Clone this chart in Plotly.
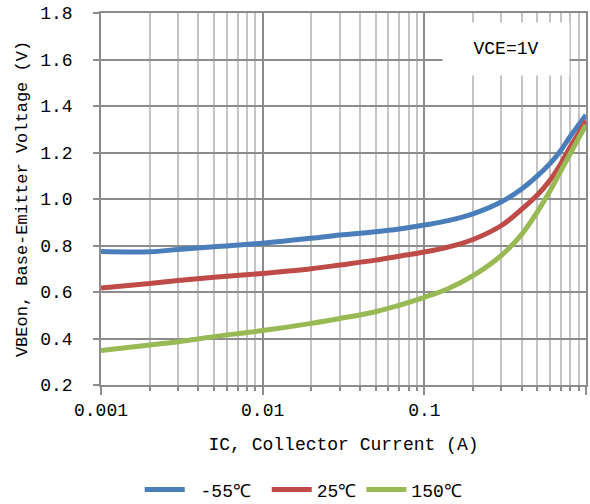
import plotly.graph_objects as go

ic = [0.001, 0.002, 0.003, 0.005, 0.01, 0.02, 0.03, 0.05, 0.07, 0.1,
      0.14, 0.2, 0.3, 0.4, 0.5, 0.6, 0.7, 0.8, 0.9, 1.0]
v_m55 = [0.774, 0.773, 0.783, 0.795, 0.810, 0.831, 0.845, 0.859, 0.871, 0.888,
         0.907, 0.936, 0.988, 1.043, 1.099, 1.153, 1.210, 1.270, 1.318, 1.361]
v_25 = [0.617, 0.637, 0.649, 0.663, 0.680, 0.700, 0.716, 0.737, 0.754, 0.772,
        0.793, 0.826, 0.886, 0.956, 1.017, 1.082, 1.153, 1.225, 1.282, 1.337]
v_150 = [0.348, 0.372, 0.386, 0.408, 0.434, 0.465, 0.486, 0.515, 0.543, 0.577,
         0.614, 0.670, 0.758, 0.848, 0.945, 1.035, 1.122, 1.196, 1.261, 1.318]
series_names = ["\u00a0-55℃\u00a0", "25℃", "150℃"]
series_colors = ["#4a7ebb", "#be4b48", "#98b954"]
x_tickvals = [0.001, 0.01, 0.1, 1]
x_ticktext = ["0.001", "0.01", "0.1", "1"]
y_tickvals = [0.2, 0.4, 0.6, 0.8, 1.0, 1.2, 1.4, 1.6, 1.8]

FONT = "Liberation Mono"

fig = go.Figure()
for name, ys, col in zip(series_names, [v_m55, v_25, v_150], series_colors):
    fig.add_trace(go.Scatter(x=ic, y=ys, mode="lines", name=name,
                             line=dict(color=col, width=5, shape="spline", smoothing=1.0)))

fig.add_annotation(x=(506 - 101) / 485, y=(385 - 48.5) / 372, xref="paper", yref="paper",
                   text="VCE=1V", showarrow=False,
                   font=dict(family=FONT, size=18, color="#000000"),
                   bgcolor="#ffffff", width=124, height=50,
                   xanchor="center", yanchor="middle")

fig.update_layout(
    width=590, height=504,
    margin=dict(l=101, r=4, t=13, b=119, autoexpand=False),
    paper_bgcolor="#ffffff", plot_bgcolor="#ffffff",
    font=dict(family=FONT, size=18, color="#000000"),
    showlegend=True,
    legend=dict(orientation="h", x=0.418, y=-0.282, xanchor="center", yanchor="middle",
                font=dict(family=FONT, size=18), itemwidth=40, tracegroupgap=0),
)
fig.update_xaxes(
    type="log", range=[-3, 0], automargin=False,
    tickvals=x_tickvals, ticktext=x_ticktext,
    showgrid=True, gridcolor="#8c8c8c", gridwidth=1.5,
    showline=True, linecolor="#8c8c8c", linewidth=1.5, mirror=True,
    ticks="outside", ticklen=8, tickcolor="#8c8c8c", tickwidth=1.5,
    minor=dict(dtick="D1", showgrid=True, gridcolor="#c4c4c4", gridwidth=1.5,
               ticks="outside", ticklen=4, tickcolor="#8c8c8c"),
    title=dict(text="IC, Collector Current (A)", font=dict(family=FONT, size=18), standoff=17),
    zeroline=False,
)
fig.update_yaxes(
    range=[0.2, 1.8], tickvals=y_tickvals, tickformat=".1f", automargin=False,
    showgrid=True, gridcolor="#8c8c8c", gridwidth=1.5,
    showline=True, linecolor="#8c8c8c", linewidth=1.5, mirror=True,
    ticks="outside", ticklen=6, tickcolor="#8c8c8c", tickwidth=1.5,
    ticklabelstandoff=17,
    title=dict(text="VBEon, Base-Emitter Voltage (V)", font=dict(family=FONT, size=17), standoff=8),
    zeroline=False,
)
fig.write_html("out.html")
